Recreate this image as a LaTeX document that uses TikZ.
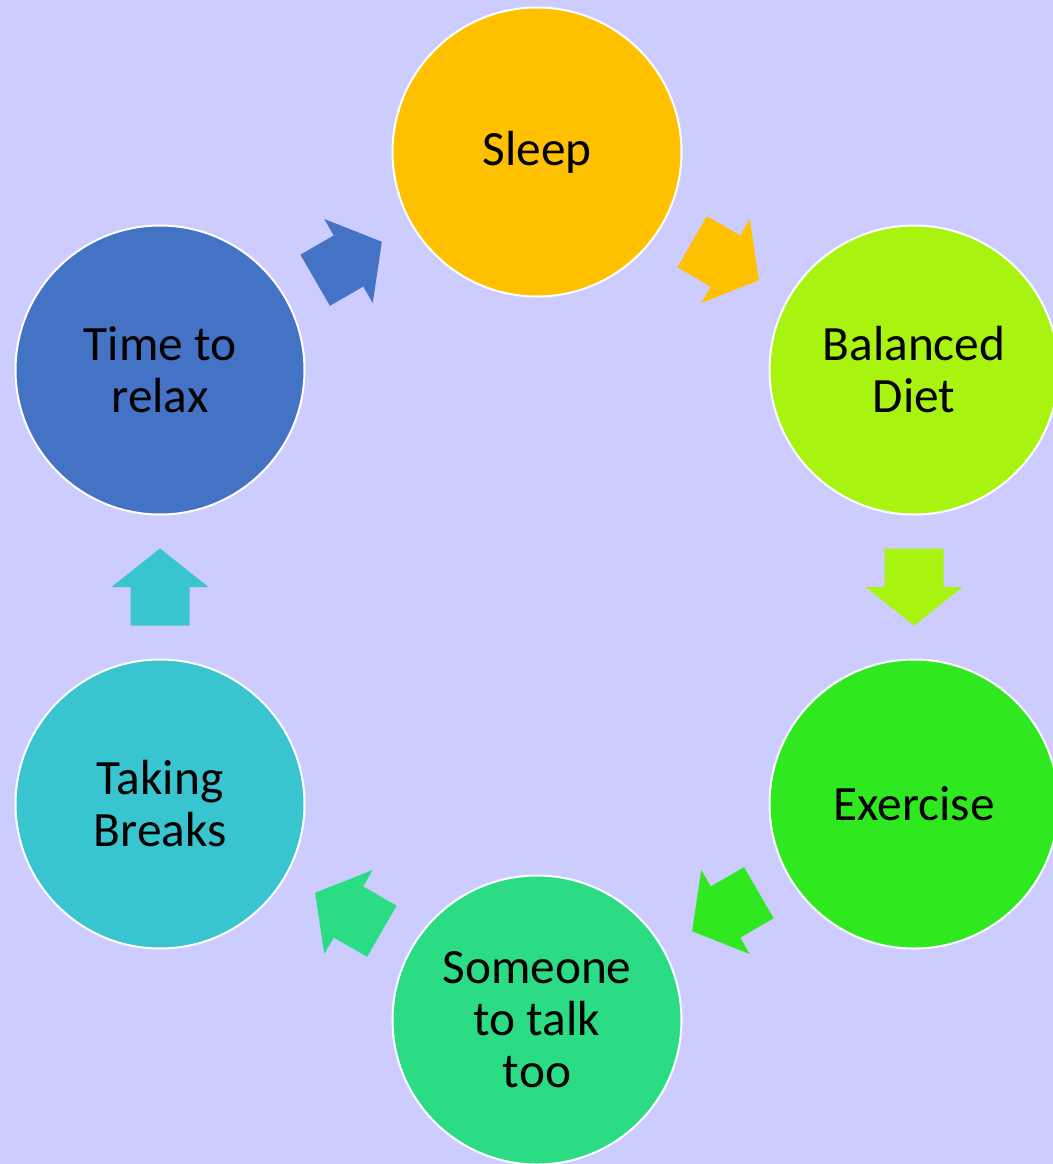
\documentclass[tikz,border=0pt]{standalone}
\usepackage{fontspec}
\setmainfont{Carlito}
\usetikzlibrary{calc}

\definecolor{bgcolor}{HTML}{CCCCFF}
\definecolor{sleepcolor}{HTML}{FFC000}
\definecolor{dietcolor}{HTML}{A8F310}
\definecolor{exercisecolor}{HTML}{2FE820}
\definecolor{talkcolor}{HTML}{2BDC84}
\definecolor{breakcolor}{HTML}{38C5CF}
\definecolor{relaxcolor}{HTML}{4472C4}

\tikzset{
  bubble/.style={circle, draw=white, line width=1.5pt, minimum size=216.75pt,
    inner sep=0pt, outer sep=0pt, align=center,
    font=\fontsize{37pt}{39pt}\selectfont},
  cyclearrow/.pic={
    \fill[rotate=#1] (-38.5,-29.5) -- (0,-29.5) -- (0,-48.5) -- (38.5,0)
      -- (0,48.5) -- (0,29.5) -- (-38.5,29.5) -- cycle;
  }
}

\begin{document}
\begin{tikzpicture}[x=0.75pt,y=-0.75pt]
\useasboundingbox (0,0) rectangle (1053,1164);
\clip (0,0) rectangle (1053,1164);
\fill[bgcolor] (0,0) rectangle (1053,1164);

% the six circles
\node[bubble, fill=sleepcolor] (sleep) at (537,152) {Sleep};
\node[bubble, fill=dietcolor] (diet) at (914,370) {Balanced\\Diet};
\node[bubble, fill=exercisecolor] (exercise) at (914,804) {Exercise};
\node[bubble, fill=talkcolor] (talk) at (537,1020) {Someone\\to talk\\too};
\node[bubble, fill=breakcolor] (breaks) at (160,804) {Taking\\Breaks};
\node[bubble, fill=relaxcolor] (relax) at (160,370) {Time to\\relax};

% block arrows between them
\pic[fill=sleepcolor] at ($(sleep)!0.5!(diet)$) {cyclearrow=-30};
\pic[fill=dietcolor] at ($(diet)!0.5!(exercise)$) {cyclearrow=-90};
\pic[fill=exercisecolor] at ($(exercise)!0.5!(talk)$) {cyclearrow=-150};
\pic[fill=talkcolor] at ($(talk)!0.5!(breaks)$) {cyclearrow=150};
\pic[fill=breakcolor] at ($(breaks)!0.5!(relax)$) {cyclearrow=90};
\pic[fill=relaxcolor] at ($(relax)!0.5!(sleep)$) {cyclearrow=30};
\end{tikzpicture}
\end{document}
